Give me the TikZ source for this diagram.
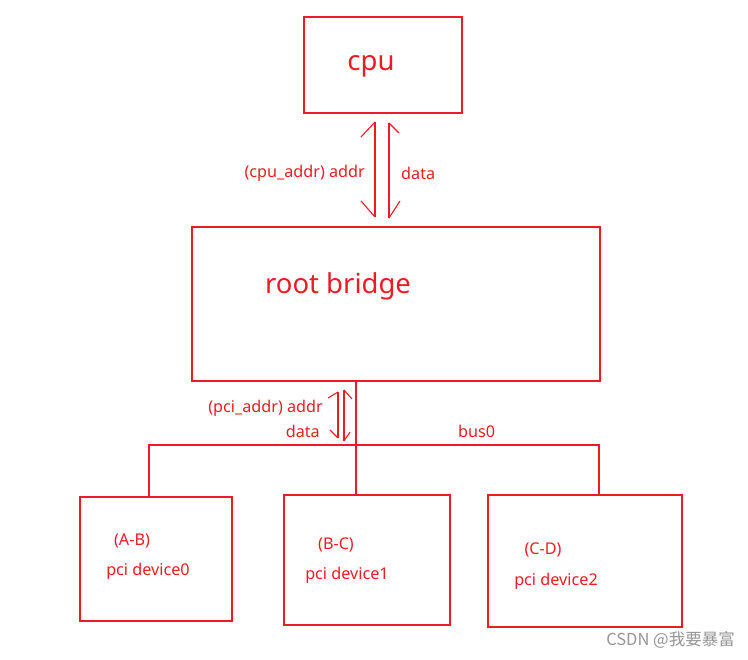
\documentclass[tikz,border=0pt]{standalone}
\usepackage{fontspec}
\setmainfont{Noto Sans}
\newfontfamily\cjk{Noto Sans CJK SC}
\definecolor{pred}{RGB}{237,28,36}
\definecolor{wmgray}{RGB}{150,150,150}
\tikzset{
  box/.style={draw=pred, line width=1.2pt, inner sep=0pt},
  line/.style={draw=pred, line width=1.1pt},
  lbl/.style={text=pred, font=\fontsize{16.2}{19}\selectfont, inner sep=0pt},
  biglbl/.style={text=pred, font=\fontsize{27.5}{31}\selectfont, inner sep=0pt},
}
\begin{document}
\begin{tikzpicture}[x=1pt,y=-1pt]
\useasboundingbox[fill=white] (0,0) rectangle (748,660);
% boxes
\node[box, minimum width=158pt, minimum height=96pt] (cpu) at (383,65) {};
\node[box, minimum width=408pt, minimum height=154pt] (rb) at (396,304) {};
\node[box, minimum width=152pt, minimum height=124pt] (dev0) at (156,559) {};
\node[box, minimum width=166pt, minimum height=130pt] (dev1) at (367,560) {};
\node[box, minimum width=194pt, minimum height=132pt] (dev2) at (585,561) {};
% box texts
\node[biglbl] (cputxt) at (371,66) {cpu};
\node[biglbl] (rbtxt) at (338,286) {root bridge};
\node[lbl] (ab) at (132,541) {(A-B)};
\node[lbl] (d0) at (148,571) {pci device0};
\node[lbl] (bc) at (336,545) {(B-C)};
\node[lbl] (d1) at (347,575) {pci device1};
\node[lbl] (cd) at (543,550) {(C-D)};
\node[lbl] (d2) at (556,581) {pci device2};
% bus
\coordinate (j) at (356,445);
\coordinate (bl) at (149,445);
\coordinate (br) at (599,445);
\draw[line] (rb.south -| j) -- (dev1.north -| j);
\draw[line] (dev0.north -| bl) -- (bl) -- (br) -- (dev2.north -| br);
\node[lbl, anchor=west] (bus) at (458,431) {bus0};
% upper arrows
\coordinate (ua1) at (375,122);
\coordinate (ua2) at (375,217);
\coordinate (ub1) at (389,123);
\coordinate (ub2) at (389,218);
\draw[line] (ua1) -- (ua2);
\draw[line] (ub1) -- (ub2);
\draw[line] (361,137) -- (ua1);
\draw[line] (399,133) -- (ub1);
\draw[line] (361,201) -- (ua2);
\draw[line] (400,201) -- (ub2);
\node[lbl, anchor=east] (cpuaddr) at (365,173) {(cpu\_addr) addr};
\node[lbl, anchor=west] (cpudata) at (401,173) {data};
% lower arrows
\coordinate (la1) at (338,392);
\coordinate (la2) at (338,438);
\coordinate (lb1) at (344,390);
\coordinate (lb2) at (344,441);
\draw[line] (la1) -- (la2);
\draw[line] (lb1) -- (lb2);
\draw[line] (328,398) -- (la1);
\draw[line] (352,399) -- (lb1);
\draw[line] (330,430) -- (la2);
\draw[line] (350,432) -- (lb2);
\node[lbl, anchor=east] (pciaddr) at (323,408) {(pci\_addr) addr};
\node[lbl, anchor=east] (pcidata) at (320,431) {data};
% watermark
\node[text=wmgray, font=\cjk\fontsize{16.5}{19}\selectfont, inner sep=0pt, anchor=east] (wm) at (735,640) {CSDN @我要暴富};
\end{tikzpicture}
\end{document}
